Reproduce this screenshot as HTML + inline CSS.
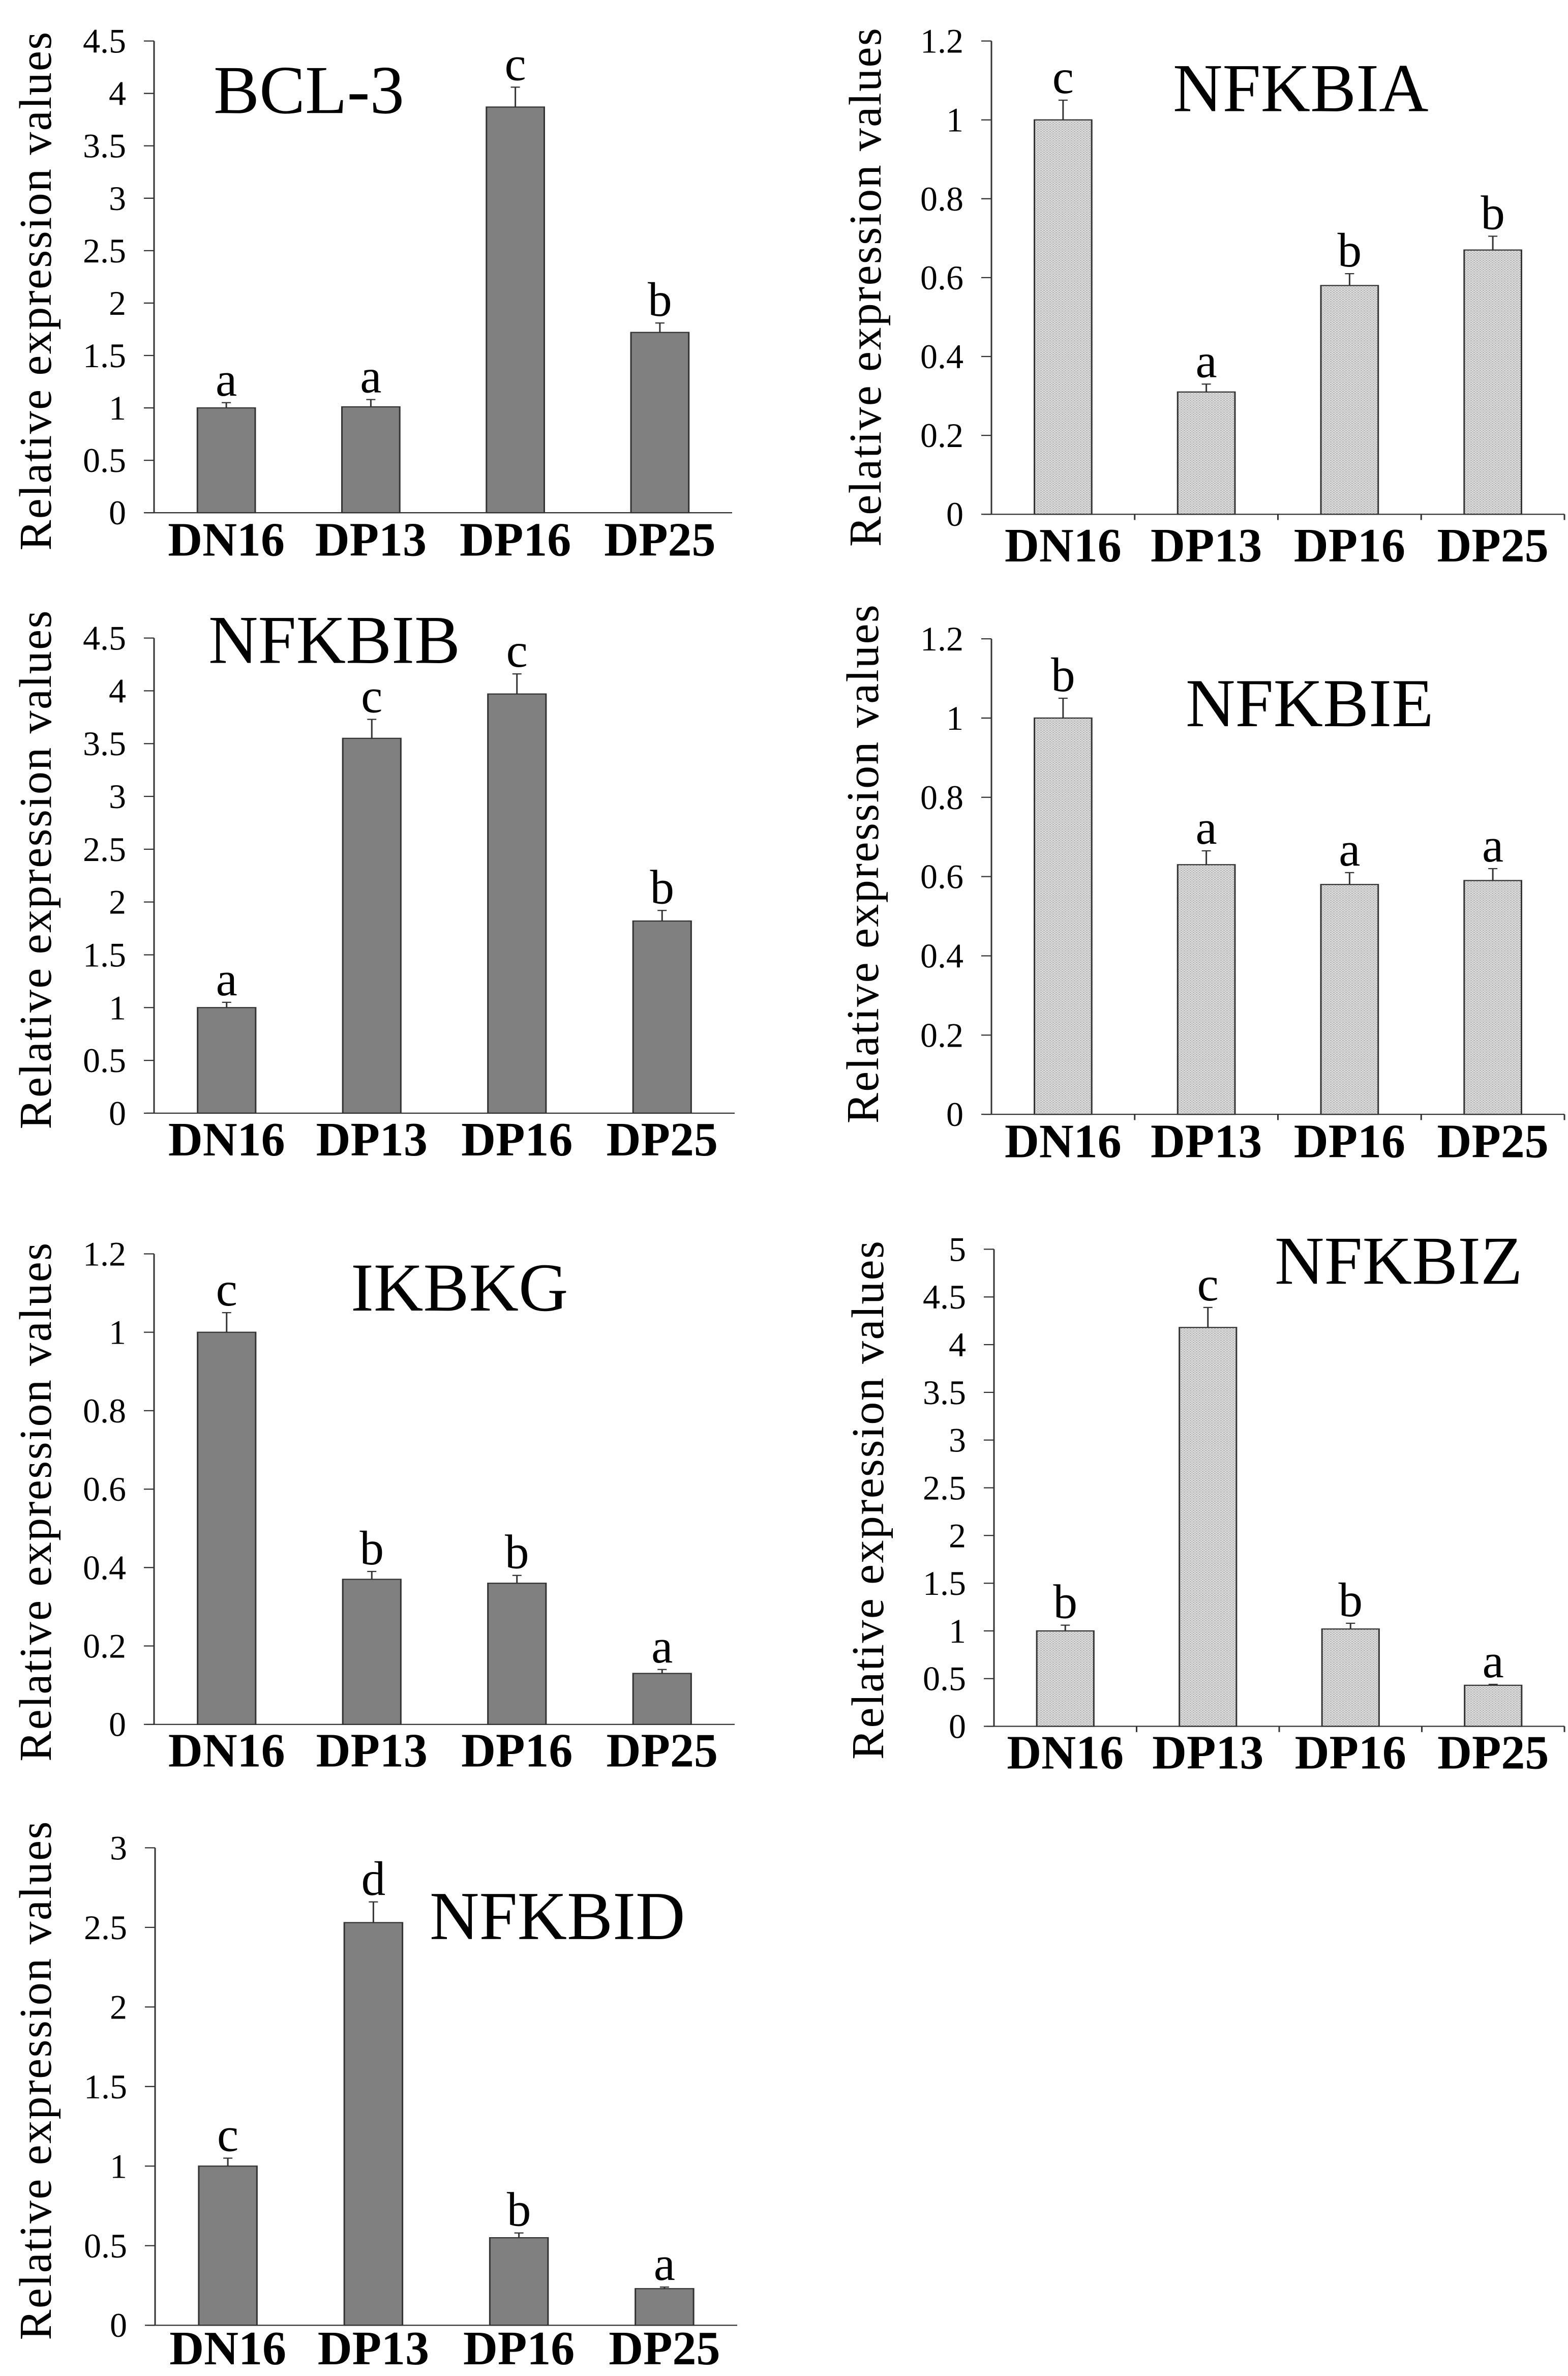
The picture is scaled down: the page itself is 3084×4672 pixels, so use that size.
<!DOCTYPE html>
<html><head><meta charset="utf-8">
<style>
html,body{margin:0;padding:0;background:#fff;}
svg{display:block;}
text{font-family:"Liberation Serif","Times New Roman",serif;fill:#000;}
</style></head>
<body>
<svg id="fig" width="3084" height="4672" viewBox="0 0 3084 4672" xmlns="http://www.w3.org/2000/svg">
<defs>
<pattern id="dots" width="6" height="6" patternUnits="userSpaceOnUse">
<rect width="6" height="6" fill="#e0e0e0"/>
<rect x="0" y="0" width="3" height="3" fill="#b4b4b4"/>
<rect x="3" y="3" width="3" height="3" fill="#c0c0c0"/>
</pattern>
</defs>
<g id="root" transform="scale(1,0.7535)"></g>
<g id="labels"></g>
</svg>
<script>
const categories = ["DN16","DP13","DP16","DP25"];
const bcl3Values = [1.0, 1.01, 3.87, 1.72];
const bcl3Errors = [0.05, 0.07, 0.19, 0.09];
const bcl3Letters = ["a","a","c","b"];
const nfkbiaValues = [1.0, 0.31, 0.58, 0.67];
const nfkbiaErrors = [0.05, 0.02, 0.03, 0.035];
const nfkbiaLetters = ["c","a","b","b"];
const nfkbibValues = [1.0, 3.55, 3.97, 1.82];
const nfkbibErrors = [0.05, 0.18, 0.19, 0.10];
const nfkbibLetters = ["a","c","c","b"];
const nfkbieValues = [1.0, 0.63, 0.58, 0.59];
const nfkbieErrors = [0.05, 0.035, 0.03, 0.03];
const nfkbieLetters = ["b","a","a","a"];
const ikbkgValues = [1.0, 0.37, 0.36, 0.13];
const ikbkgErrors = [0.05, 0.02, 0.02, 0.01];
const ikbkgLetters = ["c","b","b","a"];
const nfkbizValues = [1.0, 4.18, 1.02, 0.43];
const nfkbizErrors = [0.06, 0.21, 0.06, 0.01];
const nfkbizLetters = ["b","c","b","a"];
const nfkbidValues = [1.0, 2.53, 0.55, 0.23];
const nfkbidErrors = [0.05, 0.13, 0.03, 0.01];
const nfkbidLetters = ["c","d","b","a"];
const ticks45 = ["0","0.5","1","1.5","2","2.5","3","3.5","4","4.5"];
const ticks12 = ["0","0.2","0.4","0.6","0.8","1","1.2"];
const ticks5 = ["0","0.5","1","1.5","2","2.5","3","3.5","4","4.5","5"];
const ticks3 = ["0","0.5","1","1.5","2","2.5","3"];

const K=0.7535;
const NS="http://www.w3.org/2000/svg";
const root=document.getElementById('root');
const labels=document.getElementById('labels');
function mk(tag,attrs,parent){const e=document.createElementNS(NS,tag);for(const k in attrs)e.setAttribute(k,attrs[k]);parent.appendChild(e);return e;}

const panels=[
 {name:"bcl-3",title:"BCL-3",ox:0,oy:0,x0:303,x1:1440,yt:107,y0:1338,ticks:ticks45,vals:bcl3Values,errs:bcl3Errors,lets:bcl3Letters,hatch:false,tx:420,ty:295,xl:1450,ylx:70,ylc:760},
 {name:"nfkbia",title:"NFKBIA",ox:1542,oy:0,x0:408,x1:1535,yt:107,y0:1342,ticks:ticks12,vals:nfkbiaValues,errs:nfkbiaErrors,lets:nfkbiaLetters,hatch:true,tx:765,ty:290,xl:1465,ylx:160,ylc:750},
 {name:"nfkbib",title:"NFKBIB",ox:0,oy:1550,x0:303,x1:1445,yt:115,y0:1355,ticks:ticks45,vals:nfkbibValues,errs:nfkbibErrors,lets:nfkbibLetters,hatch:false,tx:410,ty:180,xl:1465,ylx:70,ylc:720},
 {name:"nfkbie",title:"NFKBIE",ox:1542,oy:1550,x0:408,x1:1535,yt:117,y0:1358,ticks:ticks12,vals:nfkbieValues,errs:nfkbieErrors,lets:nfkbieLetters,hatch:true,tx:790,ty:345,xl:1470,ylx:155,ylc:705},
 {name:"ikbkg",title:"IKBKG",ox:0,oy:3100,x0:303,x1:1445,yt:172,y0:1400,ticks:ticks12,vals:ikbkgValues,errs:ikbkgErrors,lets:ikbkgLetters,hatch:false,tx:690,ty:320,xl:1510,ylx:70,ylc:820},
 {name:"nfkbiz",title:"NFKBIZ",ox:1542,oy:3100,x0:413,x1:1535,yt:160,y0:1405,ticks:ticks5,vals:nfkbizValues,errs:nfkbizErrors,lets:nfkbizLetters,hatch:true,tx:965,ty:250,xl:1515,ylx:165,ylc:815},
 {name:"nfkbid",title:"NFKBID",ox:0,oy:4650,x0:305,x1:1450,yt:172,y0:1418,ticks:ticks3,vals:nfkbidValues,errs:nfkbidErrors,lets:nfkbidLetters,hatch:false,tx:845,ty:410,xl:1520,ylx:70,ylc:780}
];

panels.forEach(p=>{
  const g=mk('g',{transform:`translate(${p.ox},${p.oy})`},root);
  
  
  const tg=mk('g',{transform:`translate(${p.ox},${p.oy*K})`},labels);
  
  
  const ymax=parseFloat(p.ticks[p.ticks.length-1]);
  const yS=v=>p.y0-(v/ymax)*(p.y0-p.yt);
  const cw=(p.x1-p.x0)/categories.length;
  const xC=i=>p.x0+cw*(i+0.5);
  const bw=cw*0.4;
  const ya=mk('line',{x1:p.x0,y1:p.yt,x2:p.x0,y2:p.y0,stroke:'#333','stroke-width':3},g);
  
  
  p.ticks.forEach(t=>{
    const y=yS(parseFloat(t));
    const tk=mk('line',{x1:p.x0-20,y1:y,x2:p.x0,y2:y,stroke:'#333','stroke-width':3},g);
    
    
    const tl=mk('text',{x:p.x0-55,y:y*K+23,'text-anchor':'end','font-size':68,fill:'#222'},tg);
    
    
    tl.textContent=t;
  });
  categories.forEach((c,i)=>{
    const v=p.vals[i],e=p.errs[i];
    const bx=xC(i)-bw/2,by=yS(v);
    const r=mk('rect',{x:bx,y:by,width:bw,height:p.y0-by,fill:p.hatch?'url(#dots)':'#808080',stroke:'#333','stroke-width':3},g);
    
    
    const ye=yS(v+e);
    const el=mk('line',{x1:xC(i),y1:by,x2:xC(i),y2:ye,stroke:'#333','stroke-width':3},g);
    
    
    const ec=mk('line',{x1:xC(i)-9,y1:ye,x2:xC(i)+9,y2:ye,stroke:'#333','stroke-width':3},g);
    
    
    const lt=mk('text',{x:xC(i),y:ye*K-14,'text-anchor':'middle','font-size':95},tg);
    
    
    lt.textContent=p.lets[i];
    const xl=mk('text',{x:xC(i),y:p.xl*K,'text-anchor':'middle','font-size':94,'font-weight':'bold'},tg);
    
    
    xl.textContent=c;
  });
  const xa=mk('line',{x1:p.x0-15,y1:p.y0,x2:p.x1,y2:p.y0,stroke:'#333','stroke-width':3},g);
  
  
  if(p.hatch){
    for(let i=1;i<=categories.length;i++){
      const xt=mk('line',{x1:p.x0+cw*i,y1:p.y0,x2:p.x0+cw*i,y2:p.y0+15,stroke:'#333','stroke-width':3},g);
      
      
    }
  }
  const tt=mk('text',{x:p.tx,y:p.ty*K,'font-size':135},tg);
  
  
  tt.textContent=p.title;
  const yl=mk('text',{x:0,y:0,'text-anchor':'middle','font-size':90,textLength:1020,lengthAdjust:'spacing',transform:`translate(${p.ylx+30},${p.ylc*K}) rotate(-90)`},tg);
  
  
  yl.textContent="Relative expression values";
});
</script>
</body></html>
